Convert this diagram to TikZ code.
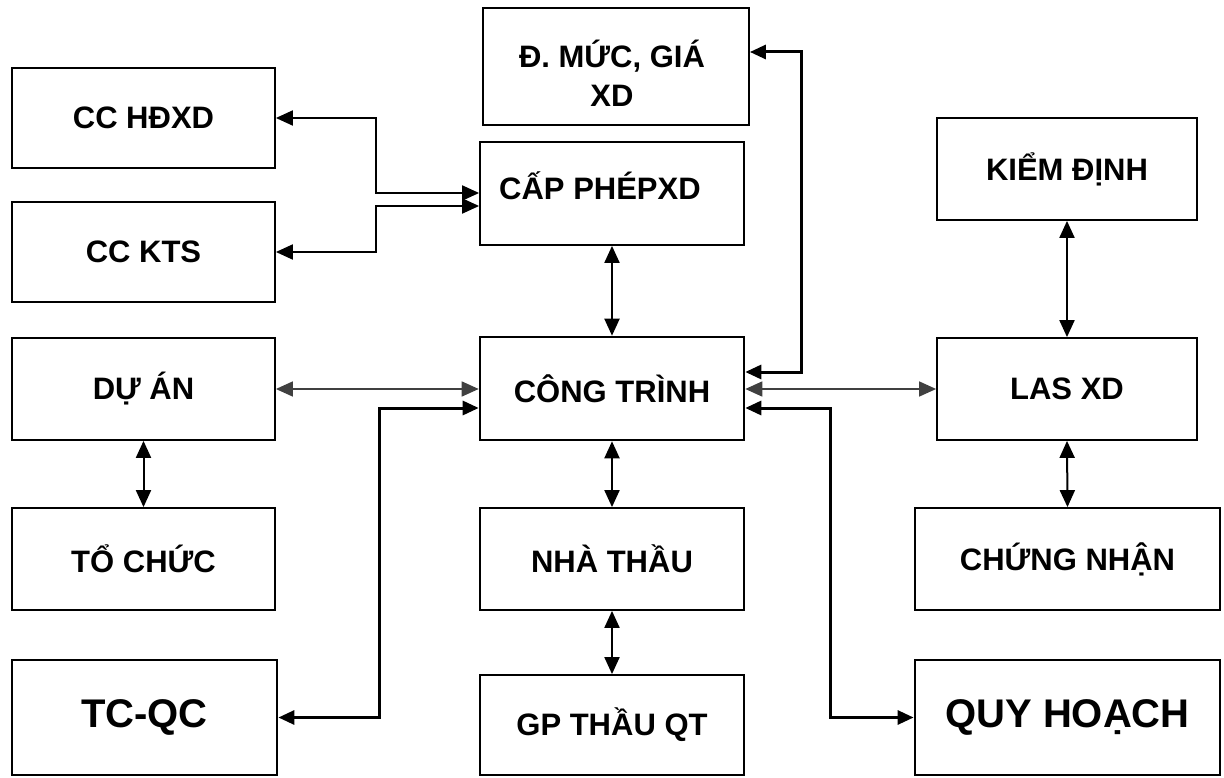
\documentclass[tikz,border=0pt]{standalone}
\usepackage{fontspec}
\setmainfont{Liberation Sans}
\usetikzlibrary{arrows.meta,calc}
\begin{document}
\begin{tikzpicture}[x=1pt,y=-1pt,
  box/.style={draw=black,line width=1.8pt,fill=white,inner sep=0pt,font=\fontsize{31}{34}\selectfont\bfseries,align=center},
  bigbox/.style={box,line width=2.8pt,font=\fontsize{40}{44}\selectfont\bfseries},
  txt/.style={inner sep=0pt,font=\fontsize{31}{39}\selectfont\bfseries,align=center},
  thinarr/.style={line width=1.6pt,draw=black!75,{Triangle[length=17pt,width=15pt]}-{Triangle[length=17pt,width=15pt]}},
  arr/.style={line width=2pt,{Triangle[length=17pt,width=15pt]}-{Triangle[length=17pt,width=15pt]}},
  thickarr/.style={line width=3pt,{Triangle[length=16pt,width=14pt]}-{Triangle[length=16pt,width=14pt]}}]
\useasboundingbox (0,0) rectangle (1224,778);
% left column
\node[box,minimum width=263pt,minimum height=100pt] (cchd) at (143.5,118) {CC HĐXD};
\node[box,minimum width=263pt,minimum height=100pt] (ckts) at (143.5,252) {CC KTS};
\node[box,minimum width=263pt,minimum height=102pt] (duan) at (143.5,389) {DỰ ÁN};
\node[box,minimum width=263pt,minimum height=102pt] (tochuc) at (143.5,559) {TỔ CHỨC};
\node[bigbox,minimum width=265pt,minimum height=115pt] (tcqc) at (144.5,717.5) {TC-QC};
% middle column
\node[box,minimum width=266pt,minimum height=117pt] (dmuc) at (616,66.5) {};
\node[txt] (dmuctxt) at (612,73) {Đ. MỨC, GIÁ\\XD};
\node[box,minimum width=264pt,minimum height=103pt] (cp) at (612,193.5) {};
\node[txt] (cptxt) at (600,186) {CẤP PHÉPXD};
\node[box,line width=2.6pt,minimum width=264pt,minimum height=103pt] (ct) at (612,388.5) {CÔNG TRÌNH};
\node[box,minimum width=264pt,minimum height=102pt] (nt) at (612,559) {NHÀ THẦU};
\node[box,minimum width=264pt,minimum height=100pt] (gp) at (612,725) {GP THẦU QT};
% right column
\node[box,minimum width=260pt,minimum height=102pt] (kd) at (1067,169) {KIỂM ĐỊNH};
\node[box,minimum width=260pt,minimum height=102pt] (las) at (1067,389) {LAS XD};
\node[box,minimum width=305pt,minimum height=102pt] (cn) at (1067.5,559) {CHỨNG NHẬN};
\node[bigbox,minimum width=305pt,minimum height=115pt] (qh) at (1067.5,717.5) {QUY HOẠCH};
% connectors left
\draw[arr] (cchd.east) -| (376,193) -- ($(cp.west)+(0,-0.5)$);
\draw[arr] (ckts.east) -| (376,206) -- ($(cp.west)+(0,12.5)$);
\draw[thinarr] (duan.east) -- (ct.west |- duan.east);
\draw[thickarr] (tcqc.east) -| (379,408) -- ($(ct.west)+(0,19.5)$);
\draw[arr] (duan.south) -- (tochuc.north);
% connectors middle
\draw[arr] (cp.south) -- (ct.north);
\draw[arr] (ct.south) -- (nt.north);
\draw[arr] (nt.south) -- (gp.north);
% connectors right
\draw[thickarr] ($(dmuc.east)+(0,-14.5)$) -| (801,372) -- ($(ct.east)+(0,-16.5)$);
\draw[thinarr] (ct.east |- las.west) -- (las.west);
\draw[thickarr] ($(ct.east)+(0,19.5)$) -| (830,717.5) -- (qh.west);
\draw[arr] (kd.south) -- (las.north);
\draw[arr] (las.south) -- (cn.north);
\end{tikzpicture}
\end{document}
